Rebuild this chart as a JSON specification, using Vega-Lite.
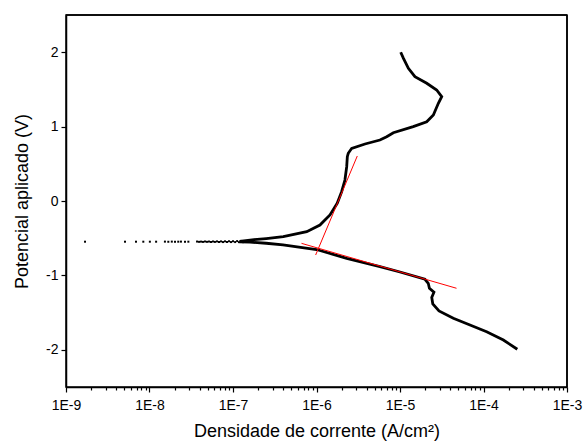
{
  "$schema": "https://vega.github.io/schema/vega-lite/v6.json",
  "width": 501,
  "height": 372,
  "autosize": "none",
  "padding": {"left": 66, "top": 15, "right": 16, "bottom": 58},
  "background": "white",
  "config": {
    "view": {"stroke": "#000000", "strokeWidth": 1.5},
    "axis": {
      "labelFont": "Liberation Sans",
      "titleFont": "Liberation Sans",
      "labelFontSize": 14,
      "titleFontSize": 18,
      "titleFontWeight": "normal",
      "labelColor": "black",
      "titleColor": "black",
      "domainColor": "black",
      "tickColor": "black",
      "domainWidth": 1.5,
      "tickWidth": 1.2,
      "grid": false
    }
  },
  "datasets": {
    "anodic": [
      {"i": 0, "j": 1.2e-7, "E": -0.543},
      {"i": 1, "j": 1.6e-7, "E": -0.525},
      {"i": 2, "j": 2.5e-7, "E": -0.505},
      {"i": 3, "j": 4.0e-7, "E": -0.48},
      {"i": 4, "j": 7.64e-7, "E": -0.413},
      {"i": 5, "j": 1.1e-6, "E": -0.323},
      {"i": 6, "j": 1.45e-6, "E": -0.188},
      {"i": 7, "j": 1.77e-6, "E": -0.031},
      {"i": 8, "j": 2.0e-6, "E": 0.125},
      {"i": 9, "j": 2.19e-6, "E": 0.282},
      {"i": 10, "j": 2.3e-6, "E": 0.461},
      {"i": 11, "j": 2.34e-6, "E": 0.595},
      {"i": 12, "j": 2.4e-6, "E": 0.641},
      {"i": 13, "j": 2.64e-6, "E": 0.708},
      {"i": 14, "j": 3.81e-6, "E": 0.766},
      {"i": 15, "j": 5.75e-6, "E": 0.82},
      {"i": 16, "j": 6.93e-6, "E": 0.864},
      {"i": 17, "j": 8.32e-6, "E": 0.918},
      {"i": 18, "j": 1.44e-5, "E": 0.999},
      {"i": 19, "j": 2.09e-5, "E": 1.066},
      {"i": 20, "j": 2.51e-5, "E": 1.156},
      {"i": 21, "j": 2.88e-5, "E": 1.313},
      {"i": 22, "j": 3.16e-5, "E": 1.402},
      {"i": 23, "j": 2.75e-5, "E": 1.492},
      {"i": 24, "j": 2.09e-5, "E": 1.582},
      {"i": 25, "j": 1.51e-5, "E": 1.671},
      {"i": 26, "j": 1.26e-5, "E": 1.784},
      {"i": 27, "j": 1.1e-5, "E": 1.918},
      {"i": 28, "j": 1.02e-5, "E": 2.0}
    ],
    "cathodic": [
      {"i": 0, "j": 1.2e-7, "E": -0.548},
      {"i": 1, "j": 1.6e-7, "E": -0.553},
      {"i": 2, "j": 2.5e-7, "E": -0.568},
      {"i": 3, "j": 3.97e-7, "E": -0.591},
      {"i": 4, "j": 1.0e-6, "E": -0.652},
      {"i": 5, "j": 2.3e-6, "E": -0.77},
      {"i": 6, "j": 5.75e-6, "E": -0.883},
      {"i": 7, "j": 1.0e-5, "E": -0.954},
      {"i": 8, "j": 1.99e-5, "E": -1.052},
      {"i": 9, "j": 2.18e-5, "E": -1.106},
      {"i": 10, "j": 2.25e-5, "E": -1.173},
      {"i": 11, "j": 2.55e-5, "E": -1.226},
      {"i": 12, "j": 2.4e-5, "E": -1.297},
      {"i": 13, "j": 2.47e-5, "E": -1.384},
      {"i": 14, "j": 2.93e-5, "E": -1.478},
      {"i": 15, "j": 4.35e-5, "E": -1.577},
      {"i": 16, "j": 6.89e-5, "E": -1.667},
      {"i": 17, "j": 1.09e-4, "E": -1.757},
      {"i": 18, "j": 1.73e-4, "E": -1.868},
      {"i": 19, "j": 2.54e-4, "E": -1.993}
    ],
    "pts": [
      {"j": 1.69e-9, "E": -0.547},
      {"j": 5.09e-9, "E": -0.547},
      {"j": 6.89e-9, "E": -0.547},
      {"j": 8.43e-9, "E": -0.547},
      {"j": 1.01e-8, "E": -0.547},
      {"j": 1.2e-8, "E": -0.547},
      {"j": 1.53e-8, "E": -0.546},
      {"j": 1.68e-8, "E": -0.548},
      {"j": 1.85e-8, "E": -0.546},
      {"j": 2.02e-8, "E": -0.548},
      {"j": 2.21e-8, "E": -0.547},
      {"j": 2.38e-8, "E": -0.546},
      {"j": 2.66e-8, "E": -0.548},
      {"j": 2.92e-8, "E": -0.547},
      {"j": 3.71e-8, "E": -0.545},
      {"j": 3.92e-8, "E": -0.549},
      {"j": 4.14e-8, "E": -0.546},
      {"j": 4.37e-8, "E": -0.55},
      {"j": 4.62e-8, "E": -0.544},
      {"j": 4.88e-8, "E": -0.549},
      {"j": 5.16e-8, "E": -0.545},
      {"j": 5.45e-8, "E": -0.551},
      {"j": 5.76e-8, "E": -0.544},
      {"j": 6.08e-8, "E": -0.55},
      {"j": 6.43e-8, "E": -0.543},
      {"j": 6.8e-8, "E": -0.551},
      {"j": 7.18e-8, "E": -0.543},
      {"j": 7.59e-8, "E": -0.552},
      {"j": 8.02e-8, "E": -0.542},
      {"j": 8.47e-8, "E": -0.551},
      {"j": 8.96e-8, "E": -0.541},
      {"j": 9.46e-8, "E": -0.552},
      {"j": 1.0e-7, "E": -0.54},
      {"j": 1.06e-7, "E": -0.552},
      {"j": 1.12e-7, "E": -0.539},
      {"j": 1.18e-7, "E": -0.553},
      {"j": 1.25e-7, "E": -0.537},
      {"j": 1.32e-7, "E": -0.553}
    ],
    "tafel": [
      {"line": "a", "j": 9.77e-7, "E": -0.726},
      {"line": "a", "j": 3.08e-6, "E": 0.605},
      {"line": "c", "j": 6.61e-7, "E": -0.569},
      {"line": "c", "j": 4.75e-5, "E": -1.173}
    ]
  },
  "layer": [
    {
      "data": {"name": "cathodic"},
      "mark": {"type": "line", "color": "black", "strokeWidth": 2.8},
      "encoding": {
        "x": {
          "field": "j", "type": "quantitative",
          "scale": {"type": "log", "domain": [1e-9, 1e-3], "nice": false},
          "axis": {
            "orient": "bottom",
            "values": [1e-9,2e-9,3e-9,4e-9,5e-9,6e-9,7e-9,8e-9,9e-9,1e-8,2e-8,3e-8,4e-8,5e-8,6e-8,7e-8,8e-8,9e-8,1e-7,2e-7,3e-7,4e-7,5e-7,6e-7,7e-7,8e-7,9e-7,1e-6,2e-6,3e-6,4e-6,5e-6,6e-6,7e-6,8e-6,9e-6,1e-5,2e-5,3e-5,4e-5,5e-5,6e-5,7e-5,8e-5,9e-5,1e-4,2e-4,3e-4,4e-4,5e-4,6e-4,7e-4,8e-4,9e-4,1e-3],
            "labelExpr": "abs(log(datum.value)/LN10 - round(log(datum.value)/LN10)) < 0.001 ? '1E' + round(log(datum.value)/LN10) : ''",
            "labelOverlap": false,
            "tickSize": {"condition": {"test": "abs(log(datum.value)/LN10 - round(log(datum.value)/LN10)) < 0.001", "value": 5}, "value": 3},
            "labelPadding": 6,
            "labelFlush": false,
            "title": "Densidade de corrente (A/cm²)",
            "titlePadding": 10
          }
        },
        "y": {
          "field": "E", "type": "quantitative",
          "scale": {"domain": [-2.5, 2.5], "nice": false},
          "axis": {
            "orient": "left",
            "values": [-2, -1, 0, 1, 2],
            "labelExpr": "'' + datum.value",
            "tickSize": 5,
            "labelPadding": 3,
            "title": "Potencial aplicado (V)",
            "titlePadding": 14
          }
        },
        "order": {"field": "i", "type": "quantitative"}
      }
    },
    {
      "data": {"name": "anodic"},
      "mark": {"type": "line", "color": "black", "strokeWidth": 2.8},
      "encoding": {
        "x": {"field": "j", "type": "quantitative", "axis": null},
        "y": {"field": "E", "type": "quantitative", "axis": null},
        "order": {"field": "i", "type": "quantitative"}
      }
    },
    {
      "data": {"name": "pts"},
      "mark": {"type": "point", "shape": "square", "color": "black", "size": 4, "filled": true, "opacity": 1},
      "encoding": {
        "x": {"field": "j", "type": "quantitative", "axis": null},
        "y": {"field": "E", "type": "quantitative", "axis": null}
      }
    },
    {
      "data": {"name": "tafel"},
      "mark": {"type": "line", "color": "#ff0000", "strokeWidth": 1},
      "encoding": {
        "x": {"field": "j", "type": "quantitative", "axis": null},
        "y": {"field": "E", "type": "quantitative", "axis": null},
        "detail": {"field": "line", "type": "nominal"}
      }
    },
    {
      "data": {"values": [{}]},
      "mark": {"type": "rule", "color": "black", "strokeWidth": 1.5},
      "encoding": {
        "y": {"datum": 2.5, "type": "quantitative", "axis": null}
      }
    },
    {
      "data": {"values": [{}]},
      "mark": {"type": "rule", "color": "black", "strokeWidth": 1.5},
      "encoding": {
        "x": {"datum": 0.001, "type": "quantitative", "axis": null}
      }
    }
  ],
  "resolve": {"axis": {"x": "independent", "y": "independent"}}
}
